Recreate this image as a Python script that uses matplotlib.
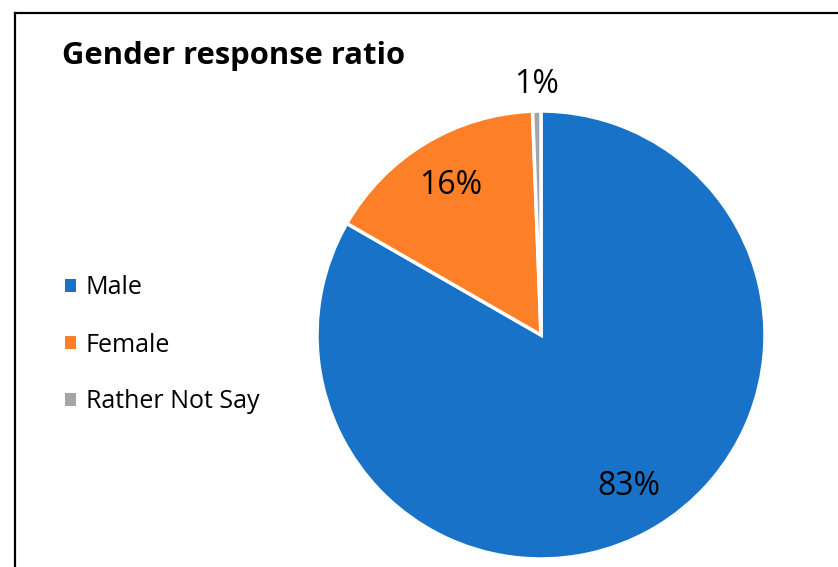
import matplotlib
matplotlib.use("Agg")
import matplotlib.pyplot as plt
from matplotlib.lines import Line2D
import numpy as np

categories = ["Male", "Female", "Rather Not Say"]
values = [83.3, 16.1, 0.6]
colors = ["#1873C8", "#FD7F28", "#A5A5A5"]
title = "Gender response ratio"

plt.rcParams['font.family'] = ['Open Sans', 'DejaVu Sans']

W, H = 838, 567
fig = plt.figure(figsize=(W/100, H/100), dpi=100)

cx, cy, r = 541, 335, 224
ax = fig.add_axes([(cx - r)/W, (H - cy - r)/H, 2*r/W, 2*r/H])
wedges, texts, autotexts = ax.pie(
    values, colors=colors, startangle=90, counterclock=False,
    autopct=lambda p: f"{p:.0f}%", pctdistance=0.78,
    wedgeprops=dict(edgecolor="white", linewidth=2.5),
    textprops=dict(fontsize=23, color="black"))
ax.set_xlim(-1, 1)
ax.set_ylim(-1, 1)
ax.set_aspect("equal")

# move the tiny slice's label outside
for w, t, v in zip(wedges, autotexts, values):
    if v < 2:
        ang = np.deg2rad((w.theta1 + w.theta2) / 2)
        t.set_position((1.12*np.cos(ang), 1.12*np.sin(ang)))

fig.text(62/W, 1 - 64/H, title, fontsize=22.3, fontweight="bold",
         va="baseline", ha="left")

leg = fig.legend(wedges, categories, loc="upper left",
                 bbox_to_anchor=(52/W, 1 - 263/H), frameon=False,
                 fontsize=18, handlelength=0.45, handleheight=0.45,
                 handletextpad=0.4, labelspacing=1.28, borderpad=0)
for h in leg.legend_handles:
    h.set_edgecolor("none")

# outer frame (left and top edges visible)
fig.add_artist(Line2D([15/W, 15/W], [0, 1 - 13/H], transform=fig.transFigure,
                      color="black", linewidth=1.6))
fig.add_artist(Line2D([15/W, 1], [1 - 13/H, 1 - 13/H], transform=fig.transFigure,
                      color="black", linewidth=1.6))

fig.savefig("out.png", dpi=100)
